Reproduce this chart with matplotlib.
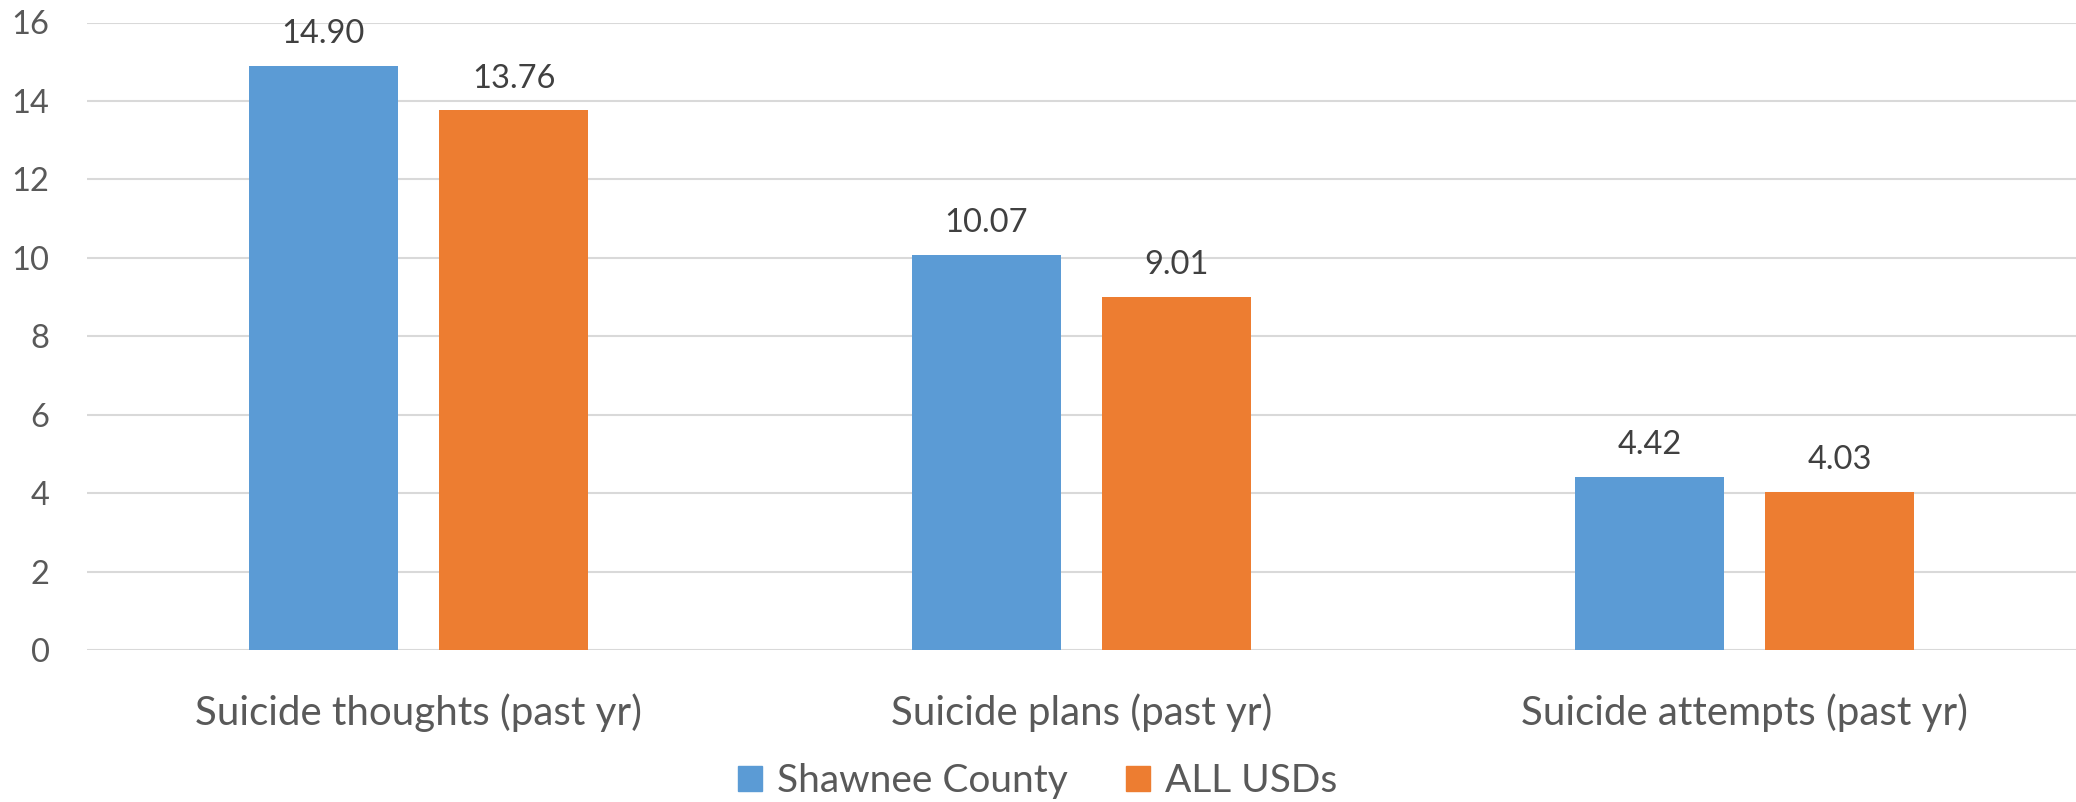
import matplotlib
matplotlib.use("Agg")
import matplotlib.pyplot as plt
from matplotlib.patches import Patch
import numpy as np

categories = ["Suicide thoughts (past yr)", "Suicide plans (past yr)", "Suicide attempts (past yr)"]
series_names = ["Shawnee County", "ALL USDs"]
shawnee = [14.90, 10.07, 4.42]
all_usds = [13.76, 9.01, 4.03]
yticks = [0, 2, 4, 6, 8, 10, 12, 14, 16]

colors = ["#5B9BD5", "#ED7D31"]
plt.rcParams['font.family'] = ['Lato', 'DejaVu Sans']

fig = plt.figure(figsize=(20.76, 8.02), dpi=100)
ax = fig.add_axes([87/2076, 1-650/802, 1-87/2076, (650-22.5)/802])

x = np.arange(len(categories))
w = 0.225
off = 0.1435
for vals, c, o in [(shawnee, colors[0], -off), (all_usds, colors[1], off)]:
    bars = ax.bar(x + o, vals, width=w, color=c, zorder=3)
    for b, v in zip(bars, vals):
        ax.annotate(f"{v:.2f}", (b.get_x() + b.get_width()/2, v), xytext=(0, 12),
                    textcoords="offset points", ha="center", va="bottom",
                    fontsize=23.5, color="#404040")

ax.set_xlim(-0.5, 2.5)
ax.set_ylim(0, 16)
ax.set_yticks(yticks)
ax.set_yticklabels([str(t) for t in yticks], fontsize=23.5, color="#595959")
ax.set_xticks(x)
ax.set_xticklabels(categories, fontsize=29, color="#595959")
ax.tick_params(axis='both', length=0)
ax.tick_params(axis='x', pad=31)
ax.tick_params(axis='y', pad=27)
ax.grid(axis='y', color="#D9D9D9", linewidth=1.5, zorder=0)
for s in ax.spines.values():
    s.set_visible(False)

handles = [Patch(color=c) for c in colors]
fig.legend(handles, series_names, loc="lower center", bbox_to_anchor=(0.5, -0.04),
           ncol=2, frameon=False, fontsize=28, labelcolor="#595959",
           handlelength=0.6, handleheight=0.6, handletextpad=0.4, columnspacing=1.5)

fig.savefig("out.png", dpi=100)
